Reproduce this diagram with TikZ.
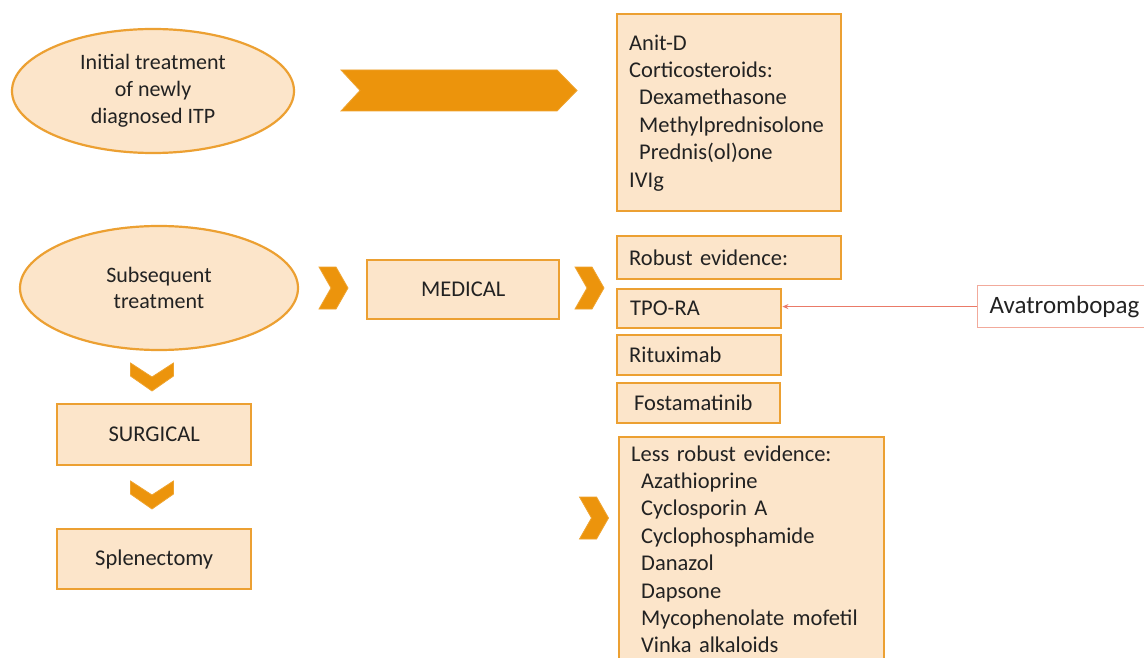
\documentclass[tikz,border=0pt]{standalone}
\usepackage{fontspec}
\setmainfont{Carlito}
\usetikzlibrary{arrows.meta,shapes.geometric}

\definecolor{peach}{RGB}{252,229,202}
\definecolor{edge}{RGB}{236,160,50}
\definecolor{chev}{RGB}{236,148,12}
\definecolor{ink}{RGB}{34,34,34}
\definecolor{salmon}{RGB}{234,122,104}
\definecolor{salmonline}{RGB}{242,170,155}

\tikzset{
  box/.style={draw=edge, fill=peach, line width=2.4pt, rectangle, inner ysep=0pt,
    text=ink, font=\fontsize{22.5}{27.4}\selectfont},
  listbox/.style={box, anchor=north west, align=left, inner xsep=12pt},
  midbox/.style={box, anchor=north west, align=center, inner xsep=0pt},
  oval/.style={draw=edge, fill=peach, line width=2.2pt, ellipse, inner sep=0pt,
    align=center, text=ink, font=\fontsize{22}{26.8}\selectfont},
  chevfill/.style={fill=chev, draw=chev!85!white, line width=0.8pt, line join=miter},
  chevr/.pic={\path[chevfill] (-14.5,-21) -- (2.5,-21) -- (14.5,0) -- (2.5,21)
      -- (-14.5,21) -- (-2.5,0) -- cycle;},
  chevd/.pic={\path[chevfill] (-21.5,-14) -- (0,0) -- (21.5,-14) -- (21.5,-1)
      -- (0,14) -- (-21.5,-1) -- cycle;},
}

\newcommand{\ind}{\hspace*{10pt}}

\begin{document}
\begin{tikzpicture}[x=1pt,y=-1pt]
  \clip (0,0) rectangle (1144,658);
  \fill[white] (0,0) rectangle (1144,658);

  % first line of treatment
  \node[oval, minimum width=282pt, minimum height=124pt] (init) at (153,91)
    {Initial treatment\\of newly\\diagnosed ITP};
  \path[chevfill] (341,70) -- (557,70) -- (577,90.5) -- (557,111) -- (341,111)
    -- (360,90.5) -- cycle;
  \node[listbox, text width=200pt, minimum height=197pt] (first) at (616,13)
    {Anit-D\\Corticosteroids:\\\ind Dexamethasone\\\ind Methylprednisolone\\\ind Prednis(ol)one\\IVIg};

  % later lines of treatment
  \node[oval, minimum width=278pt, minimum height=124pt] (subs) at (159,288)
    {Subsequent\\treatment};
  \pic at (333.5,288) {chevr};
  \node[midbox, minimum width=192pt, minimum height=59pt] (medical) at (366,259) {MEDICAL};
  \pic at (589.5,288) {chevr};

  \node[listbox, text width=200pt, minimum height=43pt] (robust) at (616,235) {Robust evidence:};
  \node[listbox, text width=140pt, minimum height=39pt] (tpo) at (616,288) {\hspace*{1pt}TPO-RA};
  \node[listbox, text width=140pt, minimum height=40pt] (ritux) at (616,334) {Rituximab};
  \node[listbox, text width=139pt, minimum height=40pt] (fosta) at (616,382) {\hspace*{5pt}Fostamatinib};

  \pic at (594,518) {chevr};
  \node[listbox, text width=241pt, minimum height=224pt] (less) at (618,436)
    {Less robust evidence:\\\ind Azathioprine\\\ind Cyclosporin A\\\ind Cyclophosphamide\\\ind Danazol\\\ind Dapsone\\\ind Mycophenolate\hspace{1pt} mofetil\\\ind Vinka alkaloids};

  % surgical branch
  \pic at (152,377) {chevd};
  \node[midbox, minimum width=194pt, minimum height=61pt] (surgical) at (56,403) {SURGICAL};
  \pic at (152,495) {chevd};
  \node[midbox, minimum width=194pt, minimum height=60pt] (splen) at (56,528) {Splenectomy};

  % callout
  \node[draw=salmonline, fill=white, line width=1.2pt, anchor=north west, align=left,
    inner xsep=12pt, minimum height=42pt, text width=170pt, text=ink,
    font=\fontsize{25}{30}\selectfont] (avat) at (977,285) {Avatrombopag};
  \draw[salmon, line width=1pt, -{Stealth[length=6pt,width=5pt]}]
    (avat.west) -- (tpo.east |- avat.west);
\end{tikzpicture}
\end{document}
